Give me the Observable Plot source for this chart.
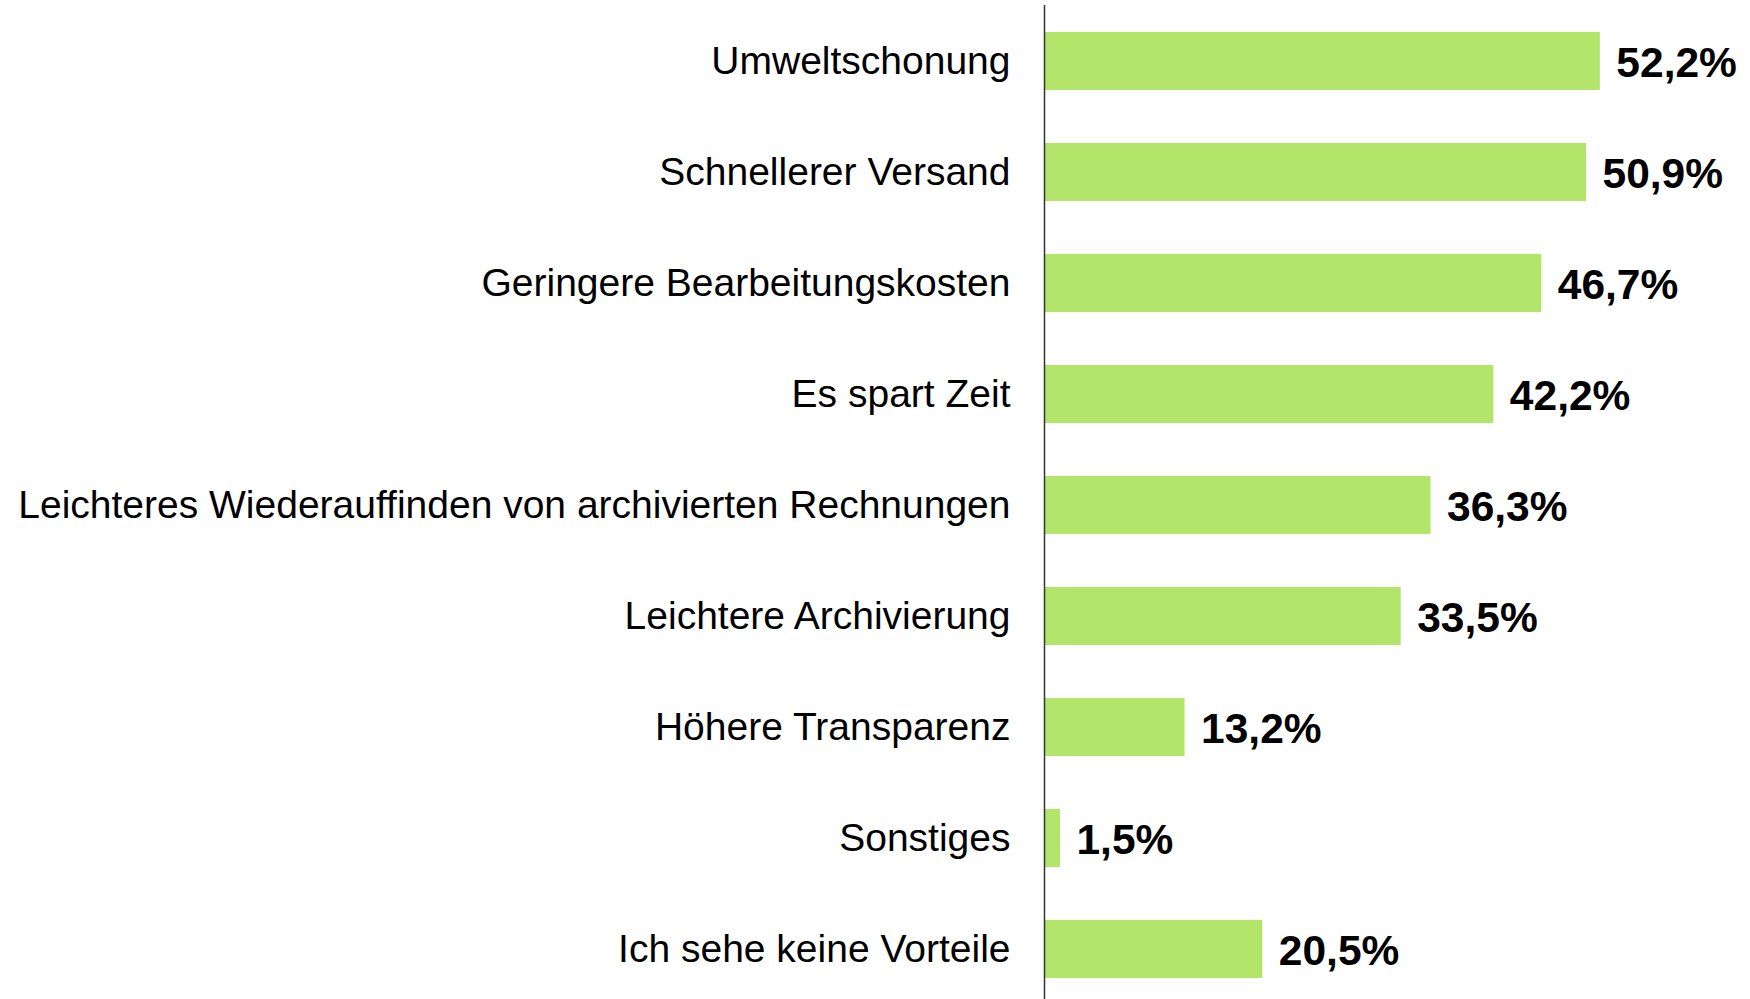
<!DOCTYPE html>
<html>
<head>
<meta charset="utf-8">
<script src="https://cdn.jsdelivr.net/npm/d3@7"></script>
<script src="https://cdn.jsdelivr.net/npm/@observablehq/plot@0.6"></script>
<style>
  html, body { margin: 0; padding: 0; background: #fff; }
  svg { display: block; }
</style>
</head>
<body>
<div id="chart"></div>
<script>
const categories = [
  "Umweltschonung",
  "Schnellerer Versand",
  "Geringere Bearbeitungskosten",
  "Es spart Zeit",
  "Leichteres Wiederauffinden von archivierten Rechnungen",
  "Leichtere Archivierung",
  "Höhere Transparenz",
  "Sonstiges",
  "Ich sehe keine Vorteile"
];
const values = [52.2, 50.9, 46.7, 42.2, 36.3, 33.5, 13.2, 1.5, 20.5];
const valueLabels = ["52,2%", "50,9%", "46,7%", "42,2%", "36,3%", "33,5%", "13,2%", "1,5%", "20,5%"];

const data = categories.map((c, i) => ({category: c, value: values[i], label: valueLabels[i]}));

const chart = Plot.plot({
  width: 1750,
  height: 999,
  marginTop: 5,
  marginBottom: 0,
  marginLeft: 1044,
  marginRight: 0,
  style: {fontFamily: "'Liberation Sans', Arial, sans-serif", background: "#fff"},
  x: {domain: [0, 66.3], axis: null},
  y: {domain: categories, paddingInner: 0.475, paddingOuter: 0.211, align: 0.569, label: null},
  marks: [
    Plot.barX(data, {x: "value", y: "category", fill: "#b3e56b"}),
    Plot.ruleX([0], {stroke: "#333", strokeWidth: 1.5}),
    Plot.axisY({tickSize: 0, tickPadding: 34, fontSize: 39, label: null, fill: "#000"}),
    Plot.text(data, {x: "value", y: "category", text: "label", textAnchor: "start", dx: 16, dy: 2, fontSize: 42.5, fontWeight: "bold", fill: "#000"})
  ]
});
document.getElementById("chart").appendChild(chart);
</script>
</body>
</html>
